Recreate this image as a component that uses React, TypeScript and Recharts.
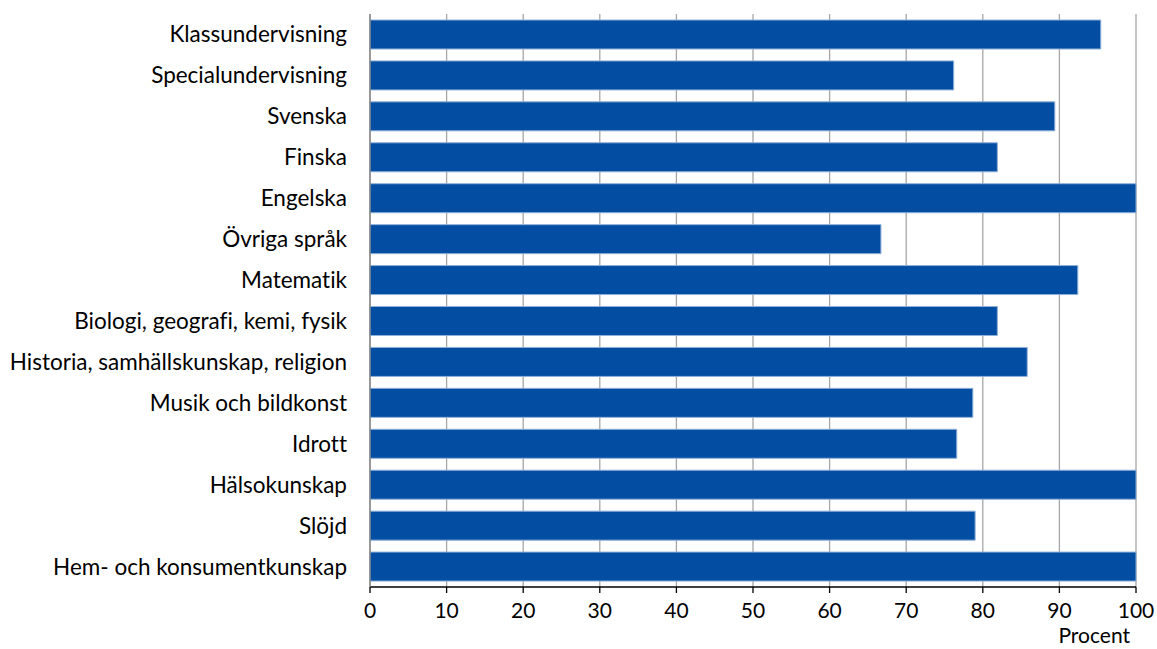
import React from 'react';
import { BarChart, Bar, XAxis, YAxis, CartesianGrid } from 'recharts';

const categories = [
  'Klassundervisning',
  'Specialundervisning ',
  'Svenska',
  'Finska',
  'Engelska',
  'Övriga språk',
  'Matematik',
  'Biologi, geografi, kemi, fysik',
  'Historia, samhällskunskap, religion',
  'Musik och bildkonst',
  'Idrott',
  'Hälsokunskap',
  'Slöjd',
  'Hem- och konsumentkunskap',
];
const values = [95.4, 76.2, 89.4, 81.9, 100, 66.7, 92.4, 81.9, 85.8, 78.7, 76.6, 100, 79.0, 100];
const xTicks = [0, 10, 20, 30, 40, 50, 60, 70, 80, 90, 100];
const xLabel = 'Procent';

const data = categories.map((name, i) => ({ name, value: values[i] }));

const FONT = 'Lato, "Open Sans", sans-serif';

export default function App() {
  return (
    <div style={{ position: 'absolute', left: 0, top: 0, background: '#fff', fontVariantLigatures: 'none' }}>
      <BarChart
        width={1157}
        height={649}
        data={data}
        layout="vertical"
        margin={{ top: 14, right: 21, bottom: 0, left: 0 }}
        style={{ fontFamily: FONT, fontVariantLigatures: 'none' }}
      >
        <CartesianGrid horizontal={false} vertical stroke="#a6a6a6" strokeWidth={1.3} />
        <XAxis
          type="number"
          dataKey="value"
          domain={[0, 100]}
          ticks={xTicks}
          interval={0}
          height={62}
          axisLine={{ stroke: '#000', strokeWidth: 1.3 }}
          tickLine={{ stroke: '#000', strokeWidth: 1.3 }}
          tickSize={6}
          tickMargin={10}
          tick={{ fill: '#000', fontSize: 21, fontFamily: FONT }}
          label={{ value: xLabel, position: 'insideBottomRight', offset: 6, fill: '#000', fontSize: 21, fontFamily: FONT }}
        />
        <XAxis
          xAxisId="top"
          orientation="top"
          type="number"
          domain={[0, 100]}
          height={0}
          tick={false}
          tickLine={false}
          axisLine={{ stroke: '#808080', strokeWidth: 1.3 }}
        />
        <YAxis
          type="category"
          dataKey="name"
          width={370}
          interval={0}
          tickLine={false}
          tickSize={0}
          tickMargin={23}
          axisLine={{ stroke: '#808080', strokeWidth: 1.3 }}
          tick={{ fill: '#000', fontSize: 22.5, fontFamily: FONT }}
        />
        <YAxis
          yAxisId="right"
          orientation="right"
          type="category"
          dataKey="name"
          width={0}
          tick={false}
          tickLine={false}
          axisLine={{ stroke: '#555', strokeWidth: 1.5 }}
        />
        <Bar
          dataKey="value"
          fill="#034ea2"
          stroke="#8fb0d8"
          strokeWidth={1}
          barSize={29}
          isAnimationActive={false}
        />
      </BarChart>
    </div>
  );
}
